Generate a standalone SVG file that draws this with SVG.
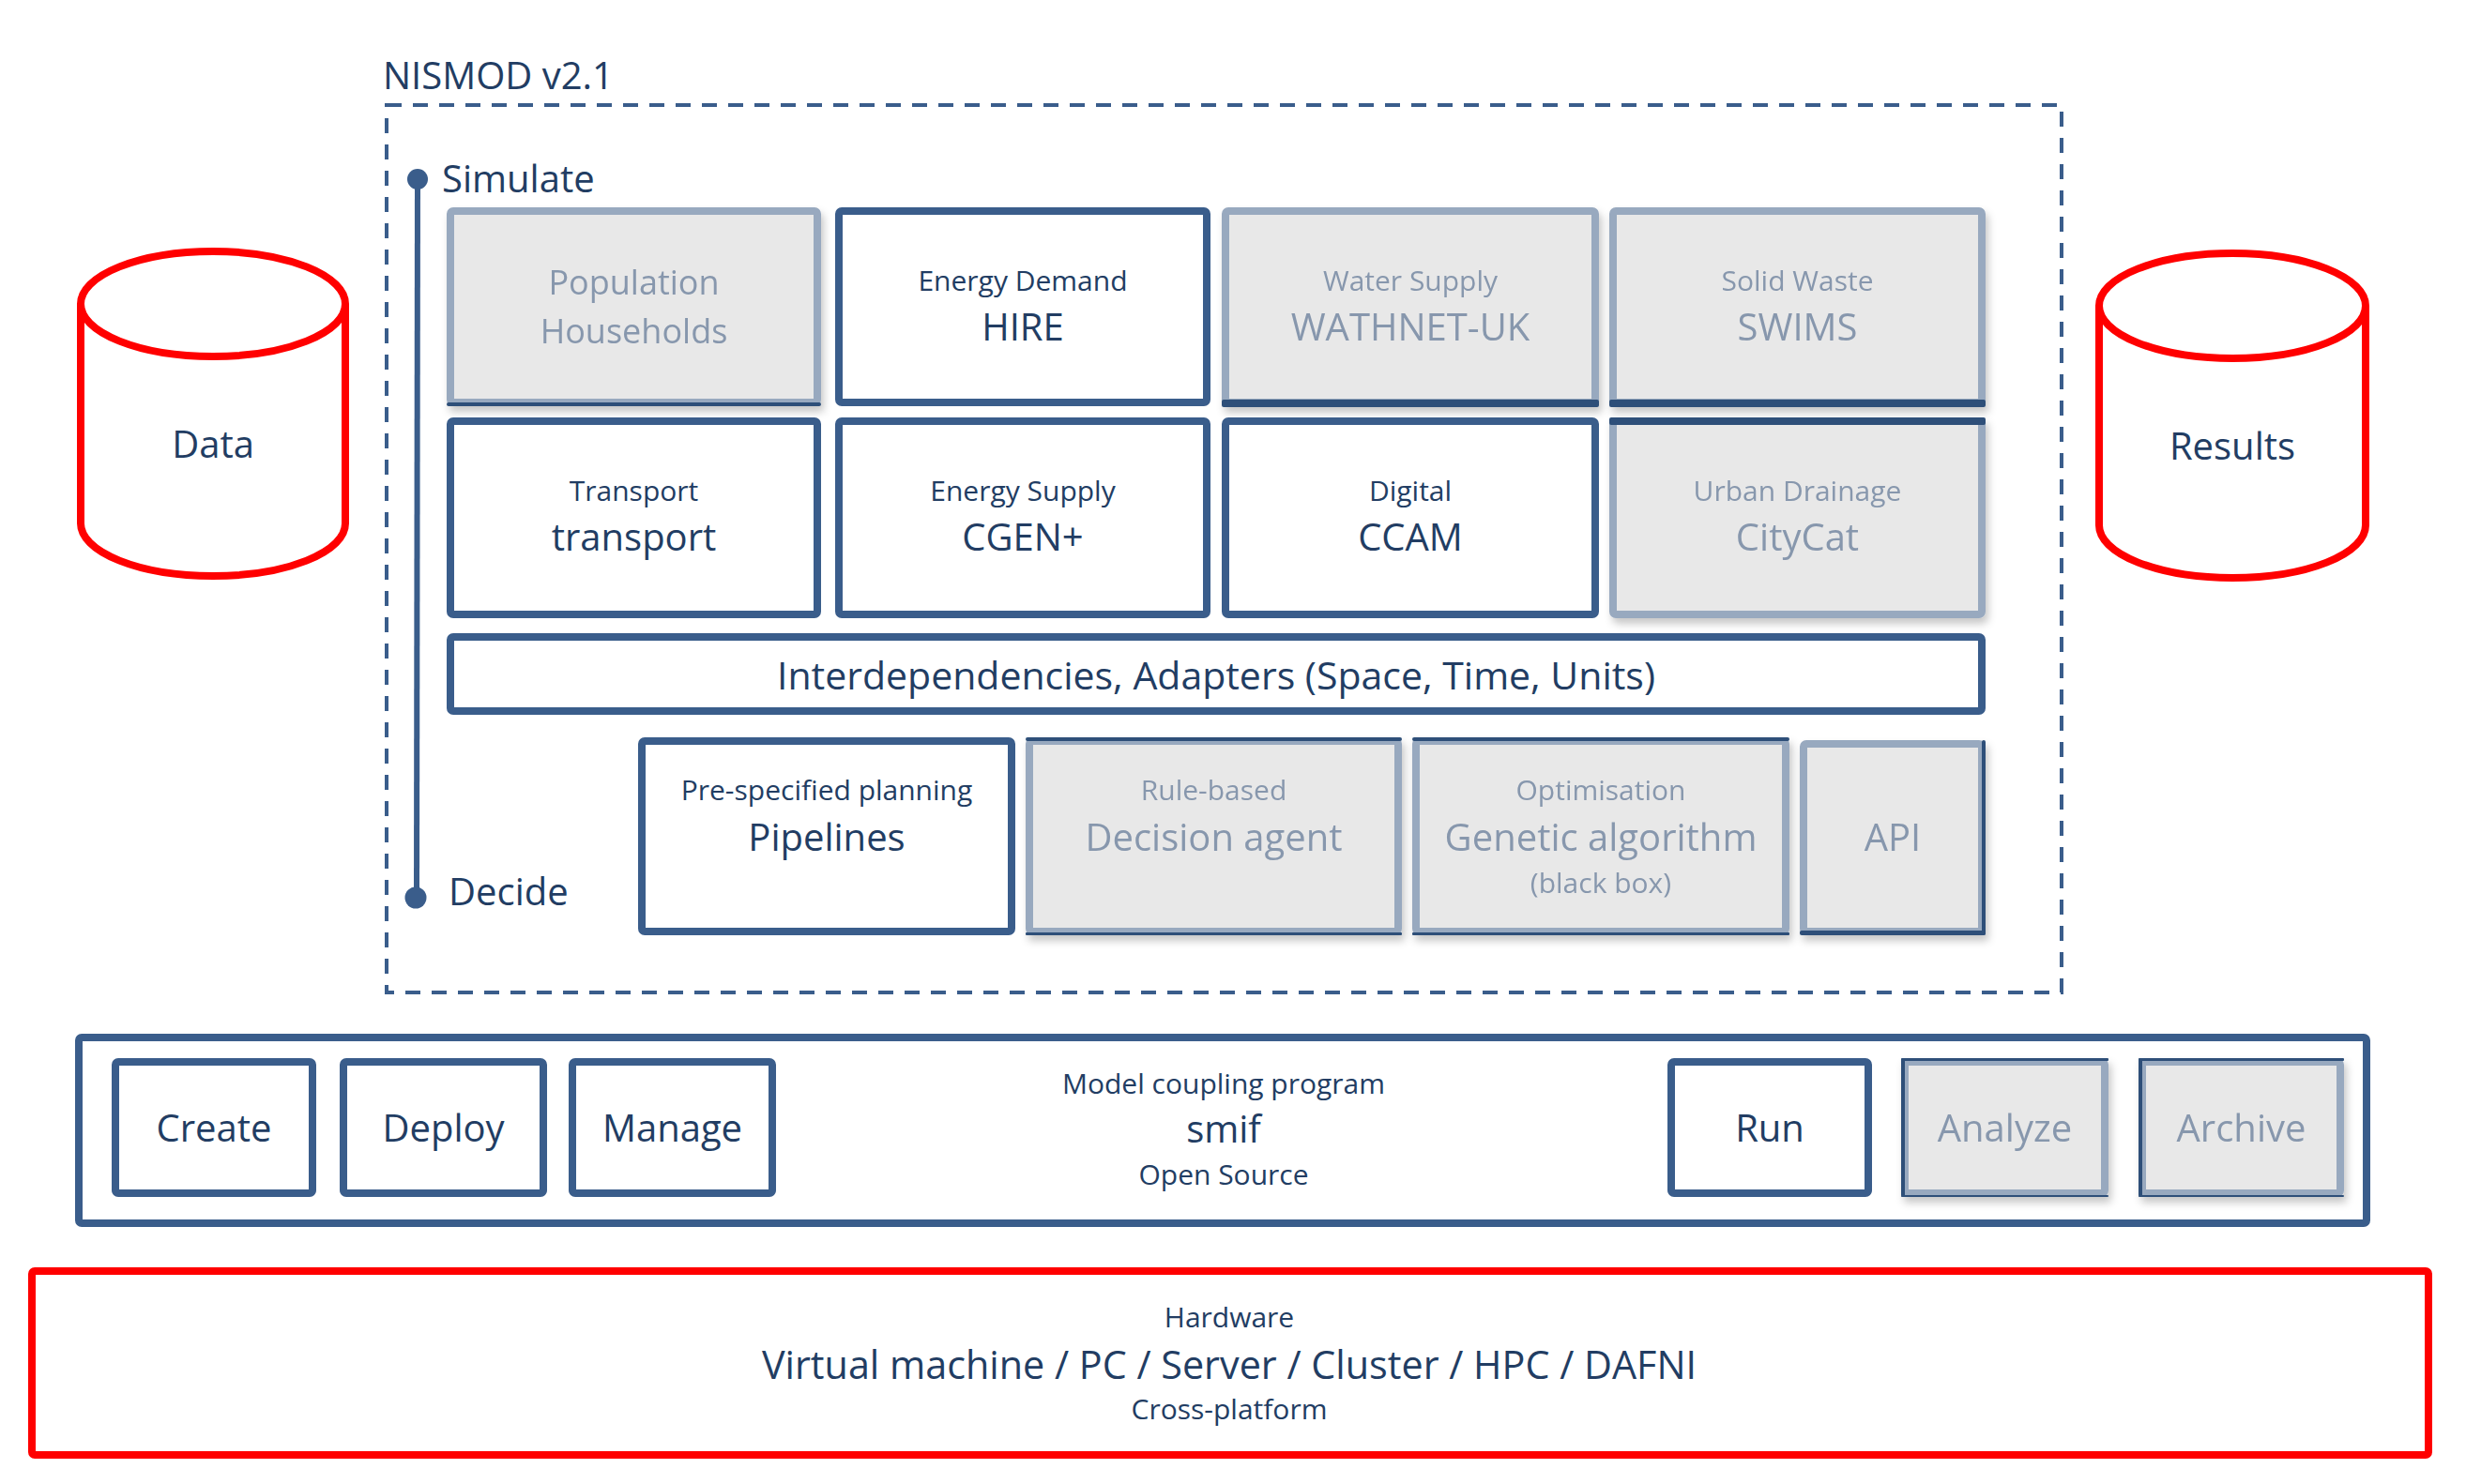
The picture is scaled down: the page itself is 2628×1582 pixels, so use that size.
<svg xmlns="http://www.w3.org/2000/svg" width="2628" height="1582" viewBox="0 0 2628 1582">
<defs>
<filter id="sh" x="-10%" y="-10%" width="125%" height="130%">
<feDropShadow dx="3" dy="6" stdDeviation="4" flood-color="#000" flood-opacity="0.22"/>
</filter>
</defs>
<style>
text{font-family:"Open Sans","Noto Sans","DejaVu Sans",sans-serif;text-anchor:middle;fill:#223d63}
.sm{font-size:30px}
.bg{font-size:40px}
.g{fill:#8797ad}
.l{text-anchor:start}
.box{fill:#fff;stroke:#3a5d8b;stroke-width:8}
.gbox{fill:#e8e8e8;stroke:#98a9bf;stroke-width:8}
.dk{fill:#2f5079}
.cyl{fill:#fff;stroke:#ff0000;stroke-width:8}
</style>
<rect width="2628" height="1582" fill="#fff"/>

<text class="bg l" x="408" y="95">NISMOD v2.1</text>
<rect x="412" y="112" width="1785" height="946" fill="none" stroke="#3a5d8b" stroke-width="4" stroke-dasharray="16 12"/>

<g id="timeline">
<line x1="445" y1="191" x2="444" y2="957" stroke="#3a5d8b" stroke-width="6"/>
<circle cx="445" cy="191" r="11" fill="#3a5d8b"/>
<circle cx="443" cy="957" r="11.5" fill="#3a5d8b"/>
<text class="bg l" x="471" y="205">Simulate</text>
<text class="bg l" x="478" y="965">Decide</text>
</g>

<g id="data">
<path class="cyl" d="M86 324 V558 A141 56 0 0 0 368 558 V324"/>
<ellipse class="cyl" cx="227" cy="324" rx="141" ry="56"/>
<text class="bg" x="227" y="488">Data</text>
</g>
<g id="results">
<path class="cyl" d="M2237 326 V560 A142 56 0 0 0 2521 560 V326"/>
<ellipse class="cyl" cx="2379" cy="326" rx="142" ry="56"/>
<text class="bg" x="2379" y="490">Results</text>
</g>

<g id="population" filter="url(#sh)">
<rect class="gbox" x="480" y="225" width="391" height="204" rx="3"/>
<rect class="dk" x="476" y="429" width="399" height="4" rx="2"/>
<text class="g" style="font-size:36px" x="675.5" y="314">Population</text>
<text class="g" style="font-size:36px" x="675.5" y="366">Households</text>
</g>
<g id="energy-demand">
<rect class="box" x="894" y="225" width="392" height="204" rx="3"/>
<text class="sm" x="1090" y="310">Energy Demand</text>
<text class="bg" x="1090" y="363">HIRE</text>
</g>
<g id="water-supply" filter="url(#sh)">
<rect class="gbox" x="1306" y="225" width="394" height="204" rx="3"/>
<rect class="dk" x="1302" y="426" width="402" height="8" rx="2"/>
<text class="sm g" x="1503" y="310">Water Supply</text>
<text class="bg g" x="1503" y="363">WATHNET-UK</text>
</g>
<g id="solid-waste" filter="url(#sh)">
<rect class="gbox" x="1719" y="225" width="393" height="204" rx="3"/>
<rect class="dk" x="1715" y="426" width="401" height="8" rx="2"/>
<text class="sm g" x="1915.5" y="310">Solid Waste</text>
<text class="bg g" x="1915.5" y="363">SWIMS</text>
</g>

<g id="transport">
<rect class="box" x="480" y="449" width="391" height="206" rx="3"/>
<text class="sm" x="675.5" y="534">Transport</text>
<text class="bg" x="675.5" y="587">transport</text>
</g>
<g id="energy-supply">
<rect class="box" x="894" y="449" width="392" height="206" rx="3"/>
<text class="sm" x="1090" y="534">Energy Supply</text>
<text class="bg" x="1090" y="587">CGEN+</text>
</g>
<g id="digital">
<rect class="box" x="1306" y="449" width="394" height="206" rx="3"/>
<text class="sm" x="1503" y="534">Digital</text>
<text class="bg" x="1503" y="587">CCAM</text>
</g>
<g id="urban-drainage" filter="url(#sh)">
<rect class="gbox" x="1719" y="449" width="393" height="206" rx="3"/>
<rect class="dk" x="1715" y="445" width="401" height="8" rx="2"/>
<text class="sm g" x="1915.5" y="534">Urban Drainage</text>
<text class="bg g" x="1915.5" y="587">CityCat</text>
</g>

<g id="interdependencies">
<rect class="box" x="480" y="679" width="1632" height="79" rx="3"/>
<text class="bg" style="font-size:41px" x="1296" y="735">Interdependencies, Adapters (Space, Time, Units)</text>
</g>

<g id="pipelines">
<rect class="box" x="684" y="790" width="394" height="203" rx="3"/>
<text class="sm" x="881" y="853">Pre-specified planning</text>
<text class="bg" x="881" y="907">Pipelines</text>
</g>
<g id="rule-based" filter="url(#sh)">
<rect class="gbox" x="1097" y="790" width="393" height="203" rx="3"/>
<rect class="dk" x="1093" y="786" width="401" height="4" rx="2"/>
<rect class="dk" x="1093" y="994" width="401" height="3" rx="1"/>
<text class="sm g" x="1293.5" y="853">Rule-based</text>
<text class="bg g" x="1293.5" y="907">Decision agent</text>
</g>
<g id="optimisation" filter="url(#sh)">
<rect class="gbox" x="1509" y="790" width="394" height="203" rx="3"/>
<rect class="dk" x="1505" y="786" width="402" height="4" rx="2"/>
<rect class="dk" x="1505" y="994" width="402" height="3" rx="1"/>
<text class="sm g" x="1706" y="853">Optimisation</text>
<text class="bg g" x="1706" y="907">Genetic algorithm</text>
<text class="sm g" x="1706" y="952">(black box)</text>
</g>
<g id="api" filter="url(#sh)">
<rect class="gbox" x="1922" y="793" width="190" height="200" rx="3"/>
<rect class="dk" x="2112" y="789" width="4" height="208" rx="2"/>
<rect class="dk" x="1918" y="992" width="198" height="5" rx="2"/>
<text class="bg g" x="2017" y="907">API</text>
</g>

<g id="smif">
<rect class="box" x="84" y="1106" width="2438" height="198" rx="3"/>
<text class="sm" x="1304" y="1166">Model coupling program</text>
<text class="bg" x="1304" y="1218">smif</text>
<text class="sm" x="1304" y="1263">Open Source</text>
</g>
<g id="create">
<rect class="box" x="123" y="1132" width="210" height="140" rx="3"/>
<text class="bg" x="228" y="1217">Create</text>
</g>
<g id="deploy">
<rect class="box" x="366" y="1132" width="213" height="140" rx="3"/>
<text class="bg" x="472.5" y="1217">Deploy</text>
</g>
<g id="manage">
<rect class="box" x="610" y="1132" width="213" height="140" rx="3"/>
<text class="bg" x="716.5" y="1217">Manage</text>
</g>
<g id="run">
<rect class="box" x="1781" y="1132" width="210" height="140" rx="3"/>
<text class="bg" x="1886" y="1217">Run</text>
</g>
<g id="analyze" filter="url(#sh)">
<rect class="gbox" x="2030" y="1132" width="213" height="140" rx="3"/>
<rect class="dk" x="2026" y="1128" width="4" height="148" rx="2"/>
<rect class="dk" x="2026" y="1128" width="221" height="3" rx="1"/>
<rect class="dk" x="2026" y="1274" width="221" height="2" rx="1"/>
<text class="bg g" x="2136.5" y="1217">Analyze</text>
</g>
<g id="archive" filter="url(#sh)">
<rect class="gbox" x="2283" y="1132" width="211" height="140" rx="3"/>
<rect class="dk" x="2279" y="1128" width="4" height="148" rx="2"/>
<rect class="dk" x="2279" y="1128" width="219" height="3" rx="1"/>
<rect class="dk" x="2279" y="1274" width="219" height="2" rx="1"/>
<text class="bg g" x="2388.5" y="1217">Archive</text>
</g>

<g id="hardware">
<rect x="34" y="1355" width="2554" height="196" rx="3" fill="none" stroke="#ff0000" stroke-width="8"/>
<text class="sm" x="1310" y="1415">Hardware</text>
<text class="bg" style="font-size:41.3px" x="1310" y="1470">Virtual machine / PC / Server / Cluster / HPC / DAFNI</text>
<text class="sm" x="1310" y="1513">Cross-platform</text>
</g>

<g id="connectors"/>
</svg>
